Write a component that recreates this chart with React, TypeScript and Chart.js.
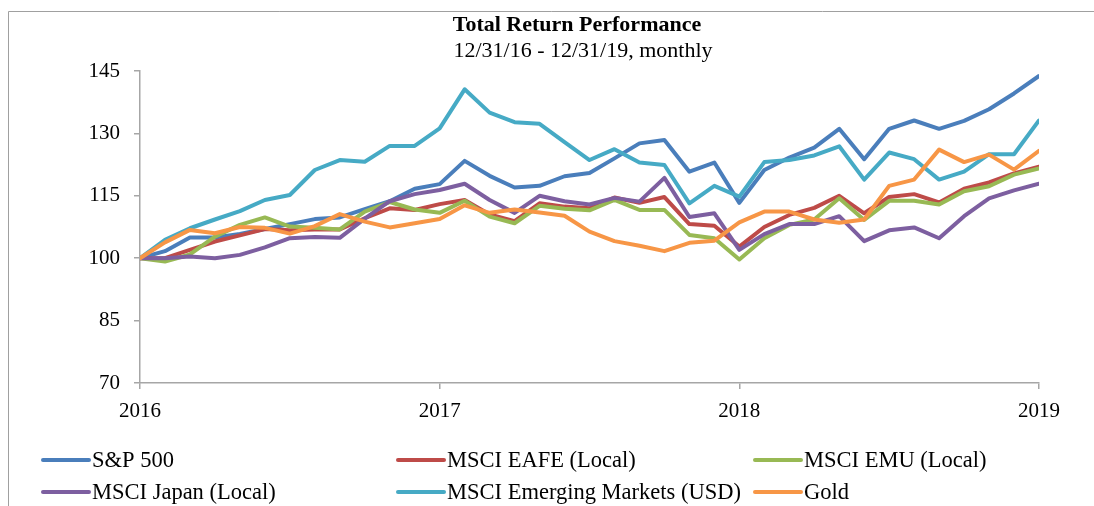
import React, { useEffect, useRef } from 'react';
import { Chart, registerables } from 'chart.js';

Chart.register(...registerables);

const chartTitle = 'Total Return Performance';
const chartSubtitle = '12/31/16 - 12/31/19, monthly';
const yearLabels = ['2016', '2017', '2018', '2019'];
const seriesNames = [
  'S&P 500',
  'MSCI EAFE (Local)',
  'MSCI EMU (Local)',
  'MSCI Japan (Local)',
  'MSCI Emerging Markets (USD)',
  'Gold',
];
const seriesColors = ['#4A7EBB', '#BE4B48', '#98B954', '#7D5FA0', '#46AAC5', '#F79646'];

const sp500 = [100, 101.7, 105, 105, 105.8, 107, 108.2, 109.4, 109.8, 111.8, 113.7, 116.7, 117.8,
  123.4, 119.8, 117, 117.4, 119.7, 120.5, 124, 127.6, 128.4, 120.8, 123, 113.3,
  121.2, 124.2, 126.6, 131.1, 123.8, 131.1, 133.1, 131.1, 133, 135.8, 139.6, 143.8];
const eafe = [100, 100, 102, 104, 105.5, 107, 106.7, 106.9, 106.9, 109.6, 112, 111.6, 113,
  114, 110.5, 108.9, 113.2, 112.4, 112, 114.6, 113.3, 114.7, 108.2, 107.8, 102.8,
  107.5, 110.4, 112.1, 115, 110.8, 114.7, 115.4, 113.4, 116.7, 118.2, 120.4, 122];
const emu = [100, 99.2, 100.9, 105.2, 108, 109.8, 107.6, 107.3, 106.9, 111.2, 113.5, 111.7, 110.9,
  113.8, 110, 108.4, 112.6, 111.9, 111.5, 114, 111.6, 111.6, 105.6, 104.8, 99.7,
  104.8, 108, 109.3, 114.4, 109.2, 113.8, 113.8, 112.9, 116.1, 117.3, 120.1, 121.6];
const japan = [100, 100, 100.4, 100, 100.8, 102.6, 104.8, 105.1, 104.9, 109.5, 113.7, 115.4, 116.4,
  117.9, 114, 110.9, 115, 113.7, 112.9, 114.5, 113.6, 119.3, 109.9, 110.8, 102,
  105.8, 108.2, 108.2, 110.1, 104.1, 106.7, 107.4, 104.8, 110.1, 114.4, 116.3, 117.9];
const emergingMarkets = [100, 104.4, 107.2, 109.3, 111.3, 114, 115.2, 121.2, 123.6, 123.2, 127, 127, 131.2,
  140.6, 135, 132.7, 132.3, 127.9, 123.6, 126.2, 123, 122.4, 113.2, 117.4, 114.8,
  123.1, 123.6, 124.7, 126.9, 118.9, 125.4, 123.8, 118.9, 120.8, 125, 125, 133.1];
const gold = [100, 103.8, 106.8, 106, 107.5, 107.3, 105.9, 107.7, 110.6, 108.8, 107.4, 108.4, 109.4,
  112.7, 110.9, 111.7, 111, 110.2, 106.4, 104.1, 103, 101.7, 103.7, 104.2, 108.6,
  111.2, 111.2, 109.3, 108.5, 109.3, 117.4, 118.9, 126.1, 123.1, 124.9, 121.3, 125.8];

const FONT_FAMILY = '"Liberation Serif", "Times New Roman", serif';

export default function App() {
  const ref = useRef<HTMLCanvasElement>(null);

  useEffect(() => {
    if (!ref.current) return;
    const series = [sp500, eafe, emu, japan, emergingMarkets, gold];
    const datasets = series.map((vals, k) => ({
      label: seriesNames[k],
      data: vals.map((v, i) => ({ x: i, y: v })),
      borderColor: seriesColors[k],
      backgroundColor: seriesColors[k],
      borderWidth: 4,
      pointRadius: 0,
      tension: 0,
      borderCapStyle: 'round' as const,
      borderJoinStyle: 'round' as const,
      order: series.length - k,
    }));

    const deco = {
      id: 'deco',
      beforeDraw(chart: any) {
        const ctx = chart.ctx;
        ctx.save();
        ctx.fillStyle = '#ffffff';
        ctx.fillRect(0, 0, chart.width, chart.height);
        ctx.strokeStyle = '#a0a0a0';
        ctx.lineWidth = 1;
        ctx.beginPath();
        ctx.moveTo(8.5, chart.height);
        ctx.lineTo(8.5, 11.5);
        ctx.lineTo(chart.width, 11.5);
        ctx.stroke();
        ctx.restore();
      },
      afterDraw(chart: any) {
        const ctx = chart.ctx;
        ctx.save();
        ctx.fillStyle = '#000';
        ctx.textAlign = 'center';
        ctx.textBaseline = 'middle';
        ctx.font = `bold 22px ${FONT_FAMILY}`;
        ctx.fillText(chartTitle, 577, 25);
        ctx.font = `22px ${FONT_FAMILY}`;
        ctx.fillText(chartSubtitle, 583, 51);

        const colX = [43, 398, 755];
        const rowY = [460, 492];
        ctx.textAlign = 'left';
        ctx.font = `22.5px ${FONT_FAMILY}`;
        seriesNames.forEach((name, k) => {
          const x0 = colX[k % 3];
          const y0 = rowY[Math.floor(k / 3)];
          ctx.strokeStyle = seriesColors[k];
          ctx.lineWidth = 4;
          ctx.lineCap = 'round';
          ctx.beginPath();
          ctx.moveTo(x0, y0);
          ctx.lineTo(x0 + 46, y0);
          ctx.stroke();
          ctx.fillStyle = '#000';
          ctx.fillText(name, x0 + 49, y0 + 1);
        });
        ctx.restore();
      },
    };

    const font = { family: FONT_FAMILY, size: 21 };
    const chart = new Chart(ref.current, {
      type: 'line',
      data: { datasets },
      options: {
        animation: false,
        responsive: false,
        devicePixelRatio: 1,
        layout: { padding: { left: 0, right: 55, top: 71, bottom: 83 } },
        plugins: {
          legend: { display: false },
          title: { display: false },
          tooltip: { enabled: false },
        },
        scales: {
          x: {
            type: 'linear',
            min: 0,
            max: 36,
            ticks: {
              stepSize: 12,
              callback: (v: any) => yearLabels[Math.round(Number(v) / 12)],
              font,
              color: '#000',
              padding: 10,
              maxRotation: 0,
            },
            grid: { drawOnChartArea: false, drawTicks: true, tickLength: 6, color: '#a6a6a6', lineWidth: 1.5 },
            border: { color: '#a6a6a6', width: 1.5 },
            afterFit: (s: any) => { s.height = 40; },
          },
          y: {
            type: 'linear',
            min: 70,
            max: 145,
            ticks: { stepSize: 15, font, color: '#000', padding: 14 },
            grid: { drawOnChartArea: false, drawTicks: true, tickLength: 6, color: '#a6a6a6', lineWidth: 1.5 },
            border: { color: '#a6a6a6', width: 1.5 },
            afterFit: (s: any) => { s.width = 140; },
          },
        },
      },
      plugins: [deco],
    } as any);
    return () => chart.destroy();
  }, []);

  return (
    <div style={{ position: 'fixed', left: 0, top: 0, width: 1094, height: 506, background: '#fff' }}>
      <canvas ref={ref} width={1094} height={506} style={{ display: 'block', width: 1094, height: 506 }} />
    </div>
  );
}
